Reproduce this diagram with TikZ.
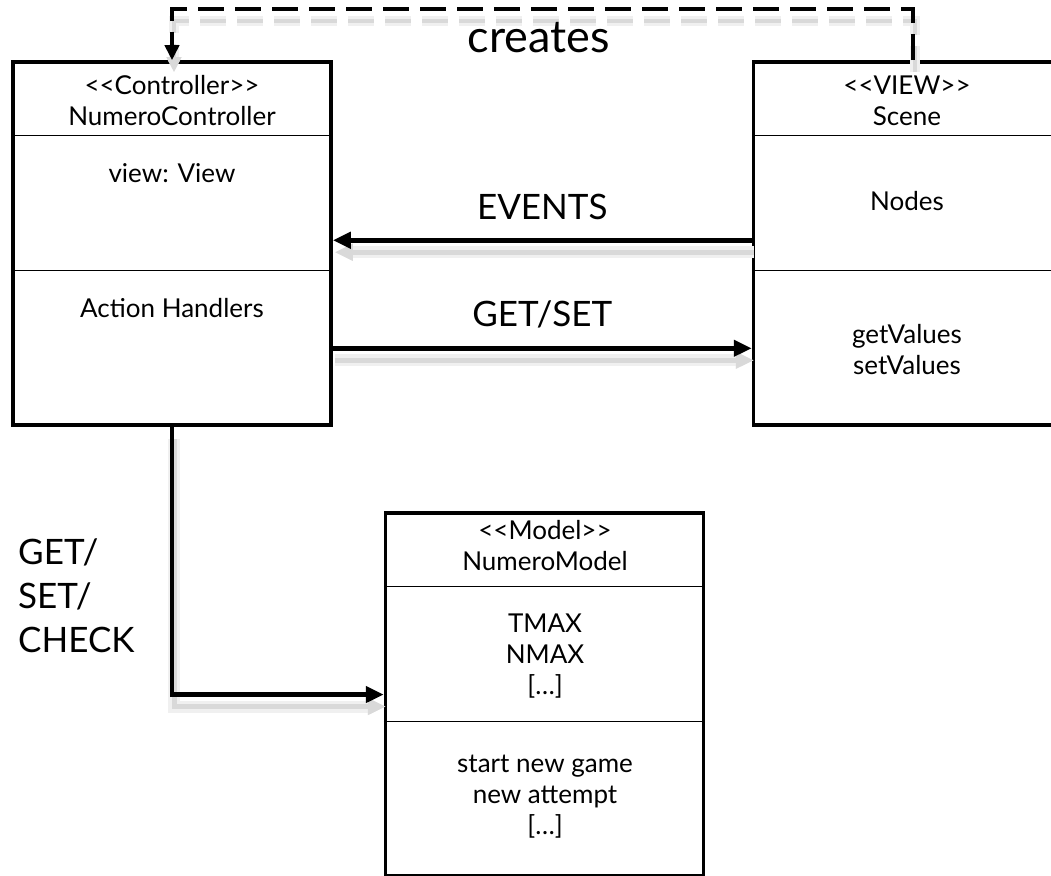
\documentclass[tikz,border=0pt]{standalone}
\usepackage{fontspec}
\setmainfont{Lato}
\usetikzlibrary{arrows.meta}
\usetikzlibrary{positioning}

\begin{document}
\begin{tikzpicture}[x=1pt,y=-1pt,auto,node distance=419pt]
	\tikzstyle{classbox} = [rectangle, draw, line width=3.5pt, minimum width=318pt, minimum height=363pt, inner sep=0pt]
	\tikzstyle{member} = [text centered, align=center, font=\fontsize{26}{31}\selectfont]
	\tikzstyle{flowtext} = [font=\fontsize{35}{44}\selectfont, inner sep=0pt]
	\tikzstyle{divider} = [line width=1.2pt]
	\tikzstyle{flow} = [line width=4.5pt, -{Triangle[length=18pt,width=16pt]},
		preaction={draw, gray!12, line width=12pt, transform canvas={shift={(2,12)}}},
		preaction={draw, gray!30, line width=5pt, transform canvas={shift={(2,12)}}}]
	\tikzstyle{dashflow} = [line width=4pt, dash pattern=on 26pt off 11pt, -{Triangle[length=15pt,width=14pt]},
		preaction={draw, gray!12, line width=10pt, dash pattern=on 26pt off 11pt, transform canvas={shift={(2,12)}}},
		preaction={draw, gray!30, line width=4pt, dash pattern=on 26pt off 11pt, transform canvas={shift={(2,12)}}}]
	\useasboundingbox (0,0) rectangle (1051,875);
	% the three classes
	\node [classbox] (ctrl) at (172,243.5) {};
	\node [classbox,right=of ctrl] (view) {};
	\node [classbox] (model) at (544.5,694.5) {};
	\foreach \cls in {ctrl,view,model}
		\foreach \dy in {75,210}
			\draw [divider] ([yshift=-\dy pt]\cls.north west) -- ([yshift=-\dy pt]\cls.north east);
	% members
	\node [member] (ctrlname) at (172,101) {<{}<Controller>{}>\\NumeroController};
	\node [member] (ctrlattr) at (172,173) {view: View};
	\node [member] (ctrlops) at (172,308) {Action Handlers};
	\node [member] (viewname) at (907,101) {<{}<VIEW>{}>\\Scene};
	\node [member] (viewattr) at (907,201) {Nodes};
	\node [member] (viewops) at (907,350) {getValues\\setValues};
	\node [member] (modelname) at (545,546) {<{}<Model>{}>\\NumeroModel};
	\node [member] (modelattr) at (545,656) {TMAX\\NMAX\\{[…]}};
	\node [member] (modelops) at (545,797) {start new game\\new attempt\\{[…]}};
	% connectors
	\draw [flow] ([yshift=-180pt]view.north west) -- ([yshift=-180pt]ctrl.north east) node[midway,above=18pt,flowtext](events){EVENTS};
	\draw [flow] ([yshift=-288pt]ctrl.north east) -- ([yshift=-288pt]view.north west) node[midway,above=18pt,flowtext](getset){GET/SET};
	\draw [flow] (ctrl.south) |- (model.west);
	\node [flowtext,anchor=west,align=left] (getsetcheck) at (18,596) {GET/\\SET/\\CHECK};
	\draw [dashflow] (view.north) -- ++(0,-51) -| (ctrl.north);
	\node [flowtext,font=\fontsize{45}{48}\selectfont] (creates) at (539,38) {creates};
\end{tikzpicture}
\end{document}
